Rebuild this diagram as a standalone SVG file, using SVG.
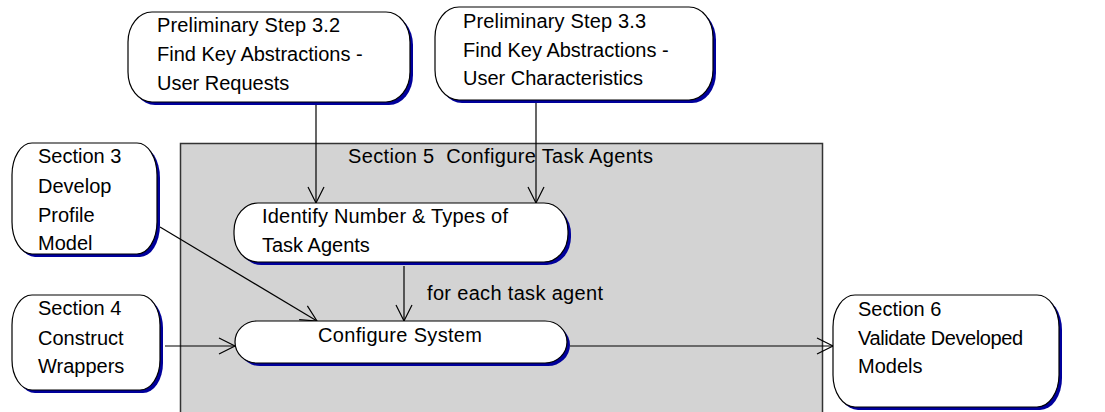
<svg xmlns="http://www.w3.org/2000/svg" width="1105" height="412" viewBox="0 0 1105 412">
<defs>
<style>
.shadow{fill:#00009c;stroke:none}
.node{fill:#fff;stroke:#000;stroke-width:1.2}
.t{font-family:"Liberation Sans",Arial,sans-serif;font-size:20px;fill:#000}
.c{fill:none;stroke:#000;stroke-width:1.2}
</style>
<marker id="arr" markerUnits="userSpaceOnUse" markerWidth="20" markerHeight="20" viewBox="0 0 20 20" refX="17" refY="10" orient="auto">
<path d="M1,2 L17,10 L1,18" fill="none" stroke="#000" stroke-width="1.2"/>
</marker>
</defs>
<rect width="1105" height="412" fill="#fff"/>
<g id="section5">
<rect x="180.5" y="143.5" width="642" height="275" fill="#d3d3d3" stroke="#333" stroke-width="1.5"/>
<text class="t" x="348" y="163" xml:space="preserve" textLength="305">Section 5  Configure Task Agents</text>
</g>
<g id="connectors">
<line class="c" x1="316" y1="104" x2="316" y2="203" marker-end="url(#arr)"/>
<line class="c" x1="536" y1="101" x2="536" y2="203" marker-end="url(#arr)"/>
<line class="c" x1="404" y1="266" x2="404" y2="321" marker-end="url(#arr)"/>
<line class="c" x1="160" y1="227" x2="317" y2="321" marker-end="url(#arr)"/>
<line class="c" x1="165" y1="346" x2="235" y2="346" marker-end="url(#arr)"/>
<line class="c" x1="570" y1="346" x2="833" y2="346" marker-end="url(#arr)"/>
<text class="t" x="427" y="300" textLength="176">for each task agent</text>
</g>
<g id="step32">
<rect class="shadow" x="131" y="15" width="282" height="90" rx="24" ry="30"/>
<rect class="node" x="128" y="12" width="282" height="90" rx="24" ry="30"/>
<text class="t" x="157" y="32" textLength="183">Preliminary Step 3.2</text>
<text class="t" x="157" y="61">Find Key Abstractions -</text>
<text class="t" x="157" y="90">User Requests</text>
</g>
<g id="step33">
<rect class="shadow" x="438" y="10" width="278" height="93" rx="24" ry="30"/>
<rect class="node" x="435" y="7" width="278" height="93" rx="24" ry="30"/>
<text class="t" x="463" y="28" textLength="183">Preliminary Step 3.3</text>
<text class="t" x="463" y="57">Find Key Abstractions -</text>
<text class="t" x="463" y="85">User Characteristics</text>
</g>
<g id="section3">
<rect class="shadow" x="15" y="146" width="145" height="111" rx="20" ry="32"/>
<rect class="node" x="12" y="143" width="145" height="111" rx="20" ry="32"/>
<text class="t" x="38" y="163">Section 3</text>
<text class="t" x="38" y="193">Develop</text>
<text class="t" x="38" y="222">Profile</text>
<text class="t" x="38" y="250">Model</text>
</g>
<g id="identify">
<rect class="shadow" x="237" y="206" width="334" height="59" rx="24" ry="28"/>
<rect class="node" x="234" y="203" width="334" height="59" rx="24" ry="28"/>
<text class="t" x="262" y="223" textLength="246">Identify Number &amp; Types of</text>
<text class="t" x="262" y="252">Task Agents</text>
</g>
<g id="configure">
<rect class="shadow" x="238" y="324" width="332" height="42" rx="22" ry="21"/>
<rect class="node" x="235" y="321" width="332" height="42" rx="22" ry="21"/>
<text class="t" x="318" y="342" textLength="164">Configure System</text>
</g>
<g id="section4">
<rect class="shadow" x="15" y="298" width="148" height="95" rx="20" ry="30"/>
<rect class="node" x="12" y="295" width="148" height="95" rx="20" ry="30"/>
<text class="t" x="38" y="315">Section 4</text>
<text class="t" x="38" y="345">Construct</text>
<text class="t" x="38" y="373">Wrappers</text>
</g>
<g id="section6">
<rect class="shadow" x="836" y="298" width="226" height="112" rx="22" ry="32"/>
<rect class="node" x="833" y="295" width="226" height="112" rx="22" ry="32"/>
<text class="t" x="858" y="316">Section 6</text>
<text class="t" x="858" y="345" textLength="165">Validate Developed</text>
<text class="t" x="858" y="373">Models</text>
</g>
</svg>
